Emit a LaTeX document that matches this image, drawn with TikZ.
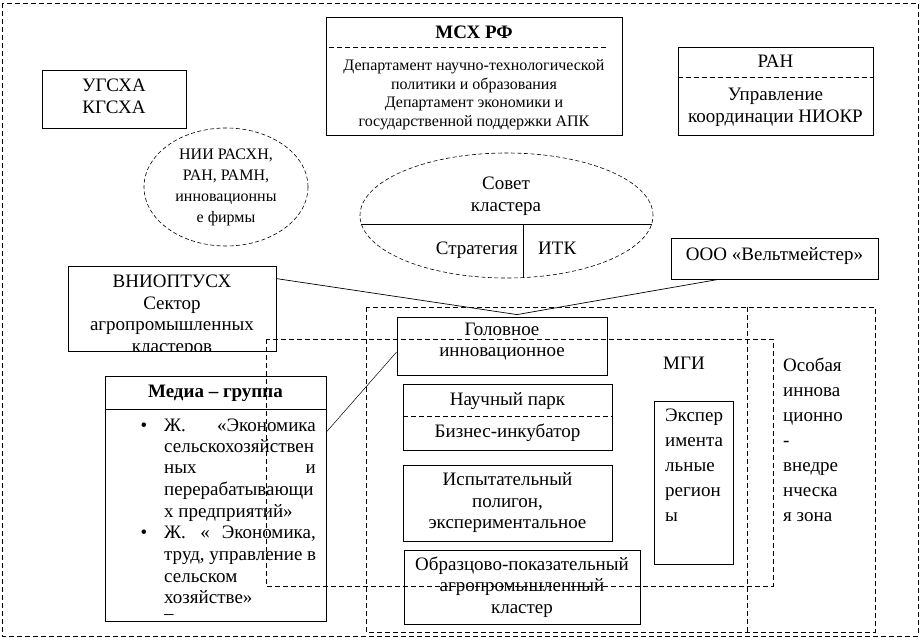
\documentclass[tikz,border=0pt]{standalone}
\usepackage{fontspec}
\setmainfont{Liberation Serif}
\usepackage{tikz}
\usetikzlibrary{shapes.geometric}

\newcommand{\fmain}{\fontsize{19}{21.5}\selectfont}
\newcommand{\fsmall}{\fontsize{16}{18}\selectfont}
\newcommand{\fnii}{\fontsize{16}{19.5}\selectfont}
\newcommand{\fnarrow}{\fontsize{19}{25}\selectfont}

\tikzset{
  box/.style={draw, line width=0.8pt, inner sep=0pt, align=center, font=\fmain},
  dline/.style={line width=0.8pt, dash pattern=on 5pt off 3pt},
  txt/.style={inner sep=0pt, align=center, font=\fmain},
  oval/.style={draw, ellipse, line width=0.6pt, dash pattern=on 4pt off 2.5pt, inner sep=0pt}
}

\begin{document}
\begin{tikzpicture}[x=1pt,y=-1pt]
  \useasboundingbox (0,0) rectangle (921,644);
  % frames
  \draw[dline] (2,3) rectangle (918,636);
  \draw[dline] (366,307) rectangle (875,632);
  \draw[dline] (747,307) -- (747,632);
  \draw[dline] (266,339) rectangle (773,586);

  \node[box, minimum width=144pt, minimum height=58pt] (ugsxa) at (114,99) {};
  \node[txt] (ugsxatext) at (114,96.5) {УГСХА\\КГСХА};

  \node[box, minimum width=296pt, minimum height=118pt] (msx) at (474,76) {};
  \node[txt, anchor=base, font=\fmain\bfseries] (msxtitle) at (474,39) {МСХ РФ};
  \draw[dline] (329,47) -- (607,47);
  \node[txt, font=\fsmall] (msxtext) at (474,95) {Департамент научно-технологической\\[0.5pt]политики и образования\\[0.5pt]Департамент экономики и\\[0.5pt]государственной поддержки АПК};

  \node[box, minimum width=195pt, minimum height=88pt] (ran) at (775.5,91) {};
  \draw[dline] (ran.west |- 0,77) -- (ran.east |- 0,77);
  \node[txt, anchor=base] (rantitle) at (775.5,68) {РАН};
  \node[txt] (rantext) at (775.5,107.5) {Управление\\координации НИОКР};

  \node[oval, minimum width=164pt, minimum height=118pt, font=\fnii, align=center] (nii) at (226,187)
    {НИИ РАСХН,\\[1.5pt]РАН, РАМН,\\[1.5pt]инновационны\\[1.5pt]е фирмы};

  \node[oval, minimum width=293pt, minimum height=125pt] (sovet) at (506.5,215.5) {};
  \draw[line width=0.8pt] (361.4,224) -- (651.6,224);
  \draw[line width=0.8pt] (523,224) -- (523,277.6);
  \node[txt] (sovettext) at (506,196) {Совет\\кластера};
  \node[txt, anchor=base east] (strat) at (518,255) {Стратегия};
  \node[txt, anchor=base west] (itk) at (538,255) {ИТК};

  \node[box, minimum width=207pt, minimum height=41pt] (velt) at (774.5,258.5) {};
  \node[txt, anchor=base] (velttext) at (774.5,261) {ООО «Вельтмейстер»};

  \node[box, minimum width=208pt, minimum height=85pt] (vnii) at (172,308.5) {};
  \begin{scope}
    \clip (vnii.north west) rectangle (vnii.south east);
    \node[txt, anchor=north] (vniitext) at (172,275) {ВНИОПТУСХ\\Сектор\\агропромышленных\\кластеров};
  \end{scope}

  \node[box, minimum width=210pt, minimum height=58pt] (golov) at (502,346) {};
  \node[txt] (golovtext) at (502,341.5) {Головное\\инновационное};

  \node[box, minimum width=209pt, minimum height=66pt] (park) at (507.5,417) {};
  \draw[dline] (park.west |- 0,416) -- (park.east |- 0,416);
  \node[txt, anchor=base] (parktext) at (507.5,405) {Научный парк};
  \node[txt, anchor=base] (inkub) at (507.5,437) {Бизнес-инкубатор};

  \node[box, minimum width=209pt, minimum height=76pt] (ispyt) at (507.5,503) {Испытательный\\полигон,\\экспериментальное};

  \node[box, minimum width=236pt, minimum height=74pt] (obraz) at (522,587) {Образцово-показательный\\агропромышленный\\кластер};

  \node[box, minimum width=79pt, minimum height=163pt] (eksp) at (693.5,482.5) {};
  \node[txt, font=\fnarrow, align=left, anchor=north west] (eksptext) at (665,409) {Экспер\\имента\\льные\\регион\\ы};

  \node[txt, anchor=base] (mgi) at (684,370) {МГИ};
  \node[txt, font=\fnarrow, align=left, anchor=north west] (osob) at (783,358) {Особая\\иннова\\ционно\\-\\внедре\\нческа\\я зона};

  \node[box, minimum width=221pt, minimum height=245pt] (media) at (215.5,498.5) {};
  \draw[line width=0.8pt] (media.west |- 0,409) -- (media.east |- 0,409);
  \node[txt, anchor=base, font=\fmain\bfseries] (mediatitle) at (215.5,397) {Медиа – группа};
  \node[txt, anchor=base] (bul1) at (144,431) {•};
  \node[txt, anchor=base west] (m1a) at (164,431) {Ж.};
  \node[txt, anchor=base east] (m1b) at (316,431) {«Экономика};
  \node[txt, anchor=base west] (m2) at (164,452) {сельскохозяйствен};
  \node[txt, anchor=base west] (m3a) at (164,473) {ных};
  \node[txt, anchor=base east] (m3b) at (316,473) {и};
  \node[txt, anchor=base west] (m4) at (164,495) {перерабатывающи};
  \node[txt, anchor=base west] (m5) at (164,517) {х предприятий»};
  \node[txt, anchor=base] (bul2) at (144,538) {•};
  \node[txt, anchor=base west] (m6a) at (164,538) {Ж.};
  \node[txt, anchor=base] (m6b) at (205,538) {«};
  \node[txt, anchor=base east] (m6c) at (316,538) {Экономика,};
  \node[txt, anchor=base west] (m7) at (164,560) {труд, управление в};
  \node[txt, anchor=base west] (m8) at (164,582) {сельском};
  \node[txt, anchor=base west] (m9) at (164,603) {хозяйстве»};
  \node[txt, anchor=base west] (m10) at (164,619) {–};

  % connectors
  \draw[line width=0.7pt] ([yshift=-13pt]vnii.north east) -- ([xshift=15pt,yshift=2pt]golov.north)
    -- ([xshift=-56pt]velt.south);
  \draw[line width=0.5pt] ([yshift=66.5pt]media.east) -- ([yshift=-6pt]golov.west);
\end{tikzpicture}
\end{document}
